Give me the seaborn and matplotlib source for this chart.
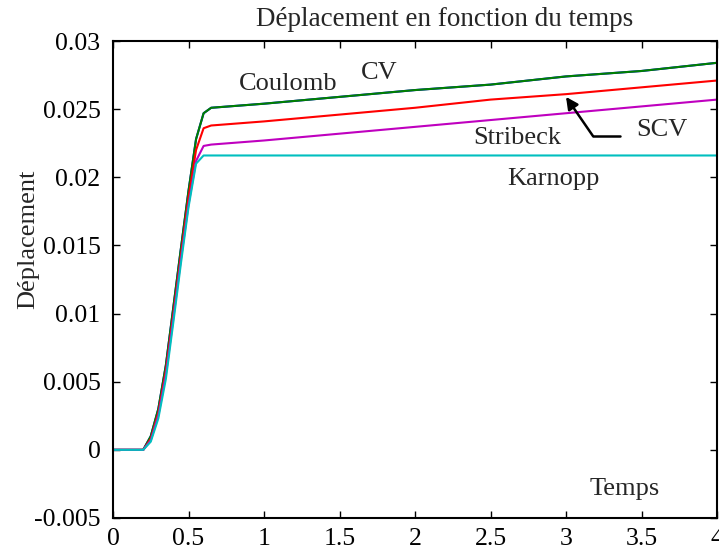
import pandas as pd
import matplotlib
matplotlib.use("Agg")
import matplotlib.pyplot as plt
import seaborn as sns

# Temps (s) et déplacements
temps = [0, 0.2, 0.25, 0.3, 0.35, 0.4, 0.45, 0.5, 0.55, 0.6, 0.65,
         1.0, 1.5, 2.0, 2.5, 3.0, 3.5, 4.0]
coulomb = [0, 0, 0.0010, 0.0030, 0.0062, 0.0105, 0.0148, 0.0190, 0.0228, 0.0247, 0.0251,
           0.0254, 0.0259, 0.0264, 0.0268, 0.0274, 0.0278, 0.0284]
cv = [0, 0, 0.0010, 0.0030, 0.0062, 0.0105, 0.0148, 0.0190, 0.0228, 0.0247, 0.0251,
      0.0254, 0.0259, 0.0264, 0.0268, 0.0274, 0.0278, 0.0284]
scv = [0, 0, 0.0008, 0.0027, 0.0058, 0.0100, 0.0143, 0.0185, 0.0220, 0.0236, 0.0238,
       0.0241, 0.0246, 0.0251, 0.0257, 0.0261, 0.0266, 0.0271]
stribeck = [0, 0, 0.0007, 0.0025, 0.0055, 0.0097, 0.0140, 0.0180, 0.0212, 0.0223, 0.0224,
            0.0227, 0.0232, 0.0237, 0.0242, 0.0247, 0.0252, 0.0257]
karnopp = [0, 0, 0.0006, 0.0023, 0.0052, 0.0094, 0.0137, 0.0178, 0.0210, 0.0216, 0.0216,
           0.0216, 0.0216, 0.0216, 0.0216, 0.0216, 0.0216, 0.0216]

modeles = ["Coulomb", "CV", "SCV", "Stribeck", "Karnopp"]
couleurs = {"Coulomb": "#0000ff", "CV": "#008000", "SCV": "#ff0000",
            "Stribeck": "#bf00bf", "Karnopp": "#00bfbf"}

# étiquettes dans le graphe (texte, t, x)
etiquettes = [("Coulomb", 1.159, 0.02640), ("CV", 1.762, 0.02721),
              ("Stribeck", 2.675, 0.02244), ("SCV", 3.636, 0.02302),
              ("Karnopp", 2.914, 0.01943)]

df = pd.concat([
    pd.DataFrame({"Temps": temps, "Déplacement": vals, "Modèle": nom})
    for nom, vals in zip(modeles, [coulomb, cv, scv, stribeck, karnopp])
])

sns.set_theme(style="ticks")
plt.rcParams["font.family"] = ["Liberation Serif", "DejaVu Serif"]

fig = plt.figure(figsize=(7.19, 5.45), dpi=100)
ax = fig.add_axes([113 / 719, 1 - 518 / 545, 604 / 719, 477 / 545])

sns.lineplot(data=df, x="Temps", y="Déplacement", hue="Modèle", hue_order=modeles,
             palette=couleurs, linewidth=1.5, legend=False, ax=ax)

ax.set_xlim(0, 4)
ax.set_ylim(-0.005, 0.03)
ax.set_xticks([0, 0.5, 1, 1.5, 2, 2.5, 3, 3.5, 4])
ax.set_xticklabels(["0", "0.5", "1", "1.5", "2", "2.5", "3", "3.5", "4"])
ax.set_yticks([-0.005, 0, 0.005, 0.01, 0.015, 0.02, 0.025, 0.03])
ax.set_yticklabels(["-0.005", "0", "0.005", "0.01", "0.015", "0.02", "0.025", "0.03"])
ax.tick_params(direction="in", length=5, width=1.0, labelsize=18.5, colors="black",
               top=True, right=True)
ax.tick_params(axis="y", pad=9)
ax.tick_params(axis="x", pad=7)
for s in ax.spines.values():
    s.set_linewidth(1.5)
    s.set_color("black")
ax.set_xlabel("")
ax.set_ylabel("")

for txt, tx, ty in etiquettes:
    ax.text(tx, ty, txt, fontsize=19, ha="center", va="baseline")
ax.text(3.391, -0.00333, "Temps", fontsize=19, ha="center", va="baseline")

# flèche vers la courbe SCV
ax.plot([3.179, 3.358], [0.02302, 0.02302], color="black", linewidth=1.8)
ax.annotate("", xy=(3.0, 0.0259), xytext=(3.179, 0.02302),
            arrowprops=dict(arrowstyle="-|>", color="black", lw=1.8,
                            mutation_scale=18, shrinkA=0, shrinkB=0))

fig.text(445 / 719, 1 - 20 / 545, "Déplacement en fonction du temps",
         fontsize=19.5, ha="center", va="center")
fig.text(28 / 719, 1 - 239 / 545, "Déplacement", fontsize=19,
         rotation=90, ha="center", va="center")

fig.savefig("out.png", dpi=100)
